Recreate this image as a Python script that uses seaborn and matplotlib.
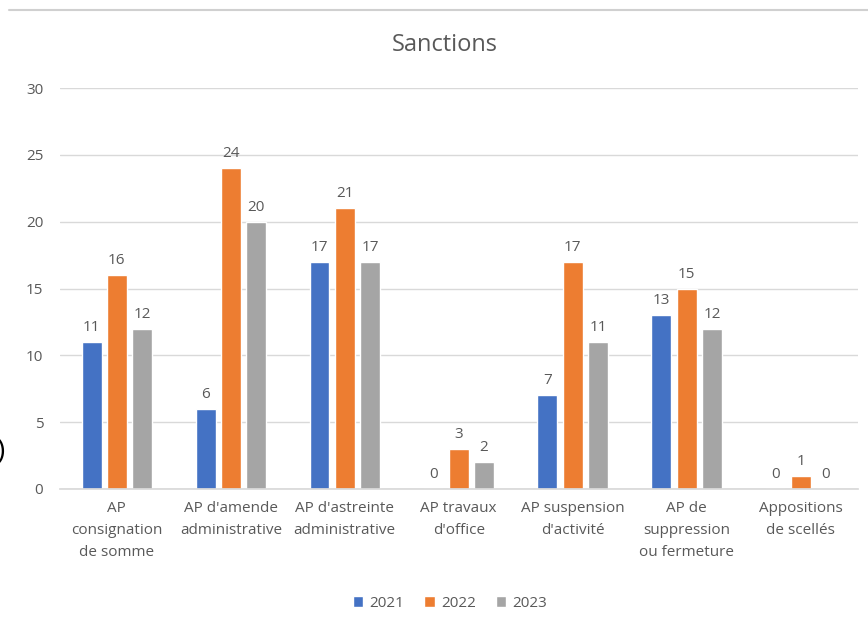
import matplotlib
matplotlib.use("Agg")
import matplotlib.pyplot as plt
import seaborn as sns
import pandas as pd
from matplotlib.lines import Line2D

categories = ["AP\nconsignation\nde somme", "AP d'amende\nadministrative",
              "AP d'astreinte\nadministrative", "AP travaux\nd'office",
              "AP suspension\nd'activité", "AP de\nsuppression\nou fermeture",
              "Appositions\nde scellés"]
years = ["2021", "2022", "2023"]
v2021 = [11, 6, 17, 0, 7, 13, 0]
v2022 = [16, 24, 21, 3, 17, 15, 1]
v2023 = [12, 20, 17, 2, 11, 12, 0]

rows = []
for y, vals in zip(years, [v2021, v2022, v2023]):
    for c, v in zip(categories, vals):
        rows.append({"cat": c, "year": y, "val": v})
df = pd.DataFrame(rows)

sns.set_theme(style="white")
plt.rcParams['font.family'] = ['Open Sans', 'DejaVu Sans']
text_color = "#595959"

fig = plt.figure(figsize=(8.68, 6.30), dpi=100)
ax = fig.add_axes([0.069, 0.224, 0.919, 0.636])

palette = {"2021": "#4472C4", "2022": "#ED7D31", "2023": "#A5A5A5"}
sns.barplot(data=df, x="cat", y="val", hue="year", order=categories, hue_order=years,
            palette=palette, width=0.665, gap=0.21, ax=ax, saturation=1, legend=True)

ax.set_ylim(0, 30)
ax.set_yticks(range(0, 31, 5))
ax.yaxis.grid(True, color="#D9D9D9", linewidth=1)
ax.set_axisbelow(True)
for s in ["top", "right", "left"]:
    ax.spines[s].set_visible(False)
ax.spines["bottom"].set_color("#D9D9D9")
ax.set_xlabel("")
ax.set_ylabel("")
ax.tick_params(axis="both", length=0, labelsize=11, colors=text_color)
ax.tick_params(axis="x", pad=9)
ax.tick_params(axis="y", pad=12)
for lbl in ax.get_xticklabels():
    lbl.set_linespacing(1.6)

for cont in ax.containers:
    ax.bar_label(cont, padding=5, fontsize=11, color=text_color)

fig.text(445 / 868, 1 - 45 / 630, "Sanctions", fontsize=17, color=text_color,
         ha="center", va="center")

leg = ax.legend(loc="center", bbox_to_anchor=(0.489, -0.285), ncol=3, frameon=False,
                fontsize=11, handlelength=0.7, handleheight=0.7, columnspacing=1.3,
                handletextpad=0.4, labelcolor=text_color)

fig.add_artist(Line2D([0.01, 1.0], [1 - 10 / 630, 1 - 10 / 630], transform=fig.transFigure,
                      color="#D0D0D0", linewidth=1.5))
fig.text(-0.004, 1 - 452 / 630, ")", fontsize=20, color="black", ha="left", va="center")

fig.savefig("out.png", dpi=100)
